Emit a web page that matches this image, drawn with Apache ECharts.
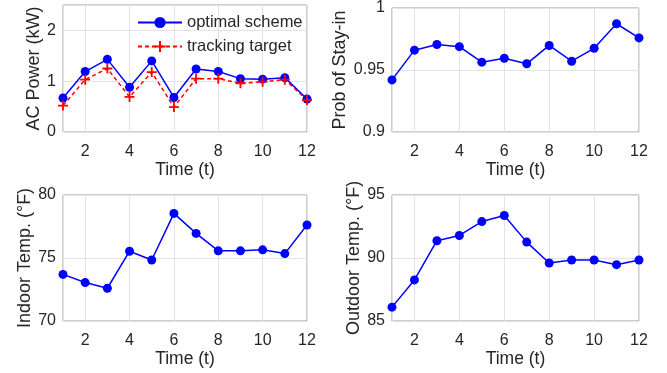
<!DOCTYPE html>
<html>
<head>
<meta charset="utf-8">
<script src="https://cdn.jsdelivr.net/npm/echarts@6/dist/echarts.min.js"></script>
<style>
html,body{margin:0;padding:0;background:#fff;}
#chart{width:667px;height:373px;}
</style>
</head>
<body>
<div id="chart"></div>
<script>
var timeSteps = [1,2,3,4,5,6,7,8,9,10,11,12];
var acOptimal = [0.67,1.19,1.43,0.88,1.40,0.68,1.24,1.19,1.05,1.04,1.07,0.65];
var acTarget = [0.52,1.03,1.25,0.69,1.18,0.49,1.05,1.05,0.96,0.99,1.03,0.63];
var stayIn = [0.942,0.966,0.9706,0.9688,0.9563,0.9595,0.955,0.9698,0.9571,0.9675,0.9873,0.9759];
var indoorTemp = [73.70,73.05,72.6,75.54,74.84,78.54,76.95,75.57,75.57,75.65,75.35,77.62];
var outdoorTemp = [86.1,88.26,91.37,91.79,92.89,93.37,91.26,89.6,89.84,89.84,89.47,89.84];

var seriesNames = ['optimal scheme','tracking target'];
var xName = 'Time (t)';
var yNames = ['AC Power (kW)','Prob of Stay-in','Indoor Temp. (\u00B0F)','Outdoor Temp. (\u00B0F)'];

function pairs(v){ return timeSteps.map(function(t,i){ return [t, v[i]]; }); }

var FONT = '"Liberation Sans", Arial, Helvetica, sans-serif';
var TXT = '#262626';
var BORDER = '#9a9a9a';
var GRIDC = '#e3e3e3';
var BLUE = '#0000ff';
var RED = '#ff0000';

var grids = [
  {left:63, top:5, width:244, height:127},
  {left:392, top:5, width:247, height:127},
  {left:63, top:195, width:244, height:126},
  {left:392, top:195, width:247, height:126}
];
grids.forEach(function(g){ g.show = true; g.borderColor = BORDER; g.borderWidth = 1; g.backgroundColor = 'transparent'; });

function xAxis(idx){
  return {
    gridIndex: idx, type:'value', min:1, max:12,
    name: xName, nameLocation:'middle', nameGap: 29,
    nameTextStyle:{fontFamily:FONT, fontSize:17.5, color:TXT},
    axisLine:{show:false}, axisTick:{show:false},
    axisLabel:{fontFamily:FONT, fontSize:16, color:TXT, margin:12, showMinLabel:false},
    splitLine:{show:true, lineStyle:{color:GRIDC, width:1}}
  };
}
function yAxis(idx, min, max, interval, gap, fmt){
  return {
    gridIndex: idx, type:'value', min:min, max:max, interval:interval,
    name: yNames[idx], nameLocation:'middle', nameGap: gap, nameRotate:90,
    nameTextStyle:{fontFamily:FONT, fontSize:18, color:TXT},
    axisLine:{show:false}, axisTick:{show:false},
    axisLabel:{fontFamily:FONT, fontSize:16, color:TXT, margin:7, showMaxLabel: max!==2.5, formatter: fmt},
    splitLine:{show:true, lineStyle:{color:GRIDC, width:1}}
  };
}

var plusPath = 'path://M4.1,0H5.9V10H4.1ZM0,4.1H10V5.9H0Z';

function blueSeries(idx, data, name){
  return {
    type:'line', name:name, xAxisIndex:idx, yAxisIndex:idx, data:pairs(data),
    symbol:'circle', symbolSize:9, clip:false,
    lineStyle:{color:BLUE, width:1.5}, itemStyle:{color:BLUE}, emphasis:{disabled:true}
  };
}

var option = {
  animation:false,
  backgroundColor:'#fff',
  grid: grids,
  xAxis:[xAxis(0), xAxis(1), xAxis(2), xAxis(3)],
  yAxis:[
    yAxis(0, 0, 2.5, 1, 20),
    yAxis(1, 0.9, 1, 0.05, 43, function(v){ return Math.abs(v-1)<1e-9 ? '1' : (Math.abs(v-0.9)<1e-9 ? '0.9' : v.toFixed(2)); }),
    yAxis(2, 70, 80, 5, 29),
    yAxis(3, 85, 95, 5, 28)
  ],
  legend:{
    show:true, data:seriesNames, orient:'vertical', left:137, top:14,
    itemWidth:44, itemHeight:14, itemGap:7,
    textStyle:{fontFamily:FONT, fontSize:16.5, color:TXT},
    backgroundColor:'transparent', borderWidth:0, padding:0, selectedMode:false
  },
  series:[
    blueSeries(0, acOptimal, seriesNames[0]),
    {
      type:'line', name:seriesNames[1], xAxisIndex:0, yAxisIndex:0, data:pairs(acTarget),
      symbol:plusPath, symbolSize:10, clip:false,
      lineStyle:{color:RED, width:1.5, type:[4,3]}, itemStyle:{color:RED}, emphasis:{disabled:true}
    },
    blueSeries(1, stayIn, 'stayIn'),
    blueSeries(2, indoorTemp, 'indoor'),
    blueSeries(3, outdoorTemp, 'outdoor')
  ]
};
option.series[0].z = 3;
var chart = echarts.init(document.getElementById('chart'), null, {renderer:'canvas'});
chart.setOption(option);
</script>
</body>
</html>
